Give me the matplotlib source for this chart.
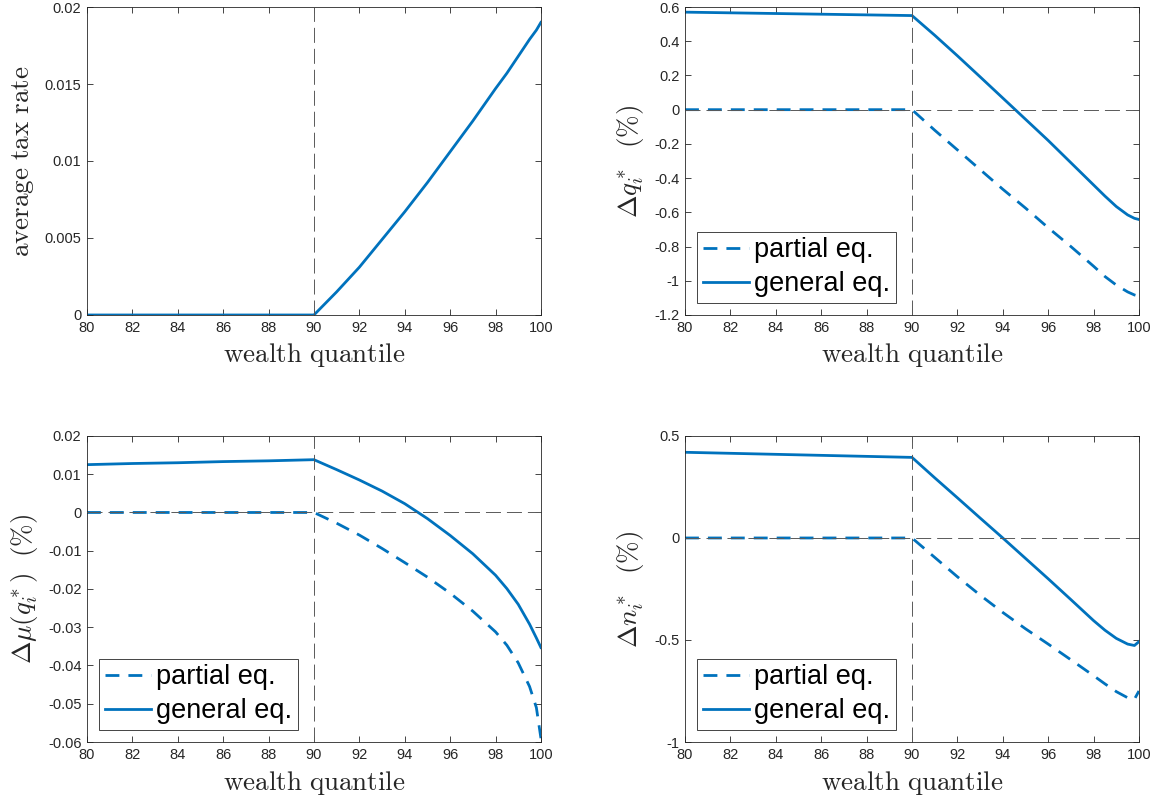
import matplotlib
matplotlib.use("Agg")
import matplotlib.pyplot as plt
from matplotlib.ticker import FuncFormatter

# DATA
quantile = [80, 82, 84, 86, 88, 90, 91, 92, 93, 94, 95, 96, 97, 98, 98.5, 99, 99.5, 99.8, 100]

tax_rate = [0, 0, 0, 0, 0, 0, 0.0015, 0.0031, 0.0049, 0.0067, 0.0086, 0.0106, 0.0126,
            0.0147, 0.0157, 0.0168, 0.0179, 0.0185, 0.0190]

dq_partial = [0, 0, 0, 0, 0, 0, -0.12, -0.235, -0.35, -0.465, -0.575, -0.69, -0.80,
              -0.915, -0.975, -1.025, -1.065, -1.083, -1.09]
dq_general = [0.57, 0.566, 0.562, 0.558, 0.554, 0.55, 0.435, 0.315, 0.192, 0.068, -0.056,
              -0.18, -0.31, -0.44, -0.505, -0.566, -0.615, -0.635, -0.642]

dmu_partial = [0, 0, 0, 0, 0, 0, -0.0028, -0.0059, -0.0094, -0.0131, -0.0169, -0.0211,
               -0.0258, -0.0312, -0.0347, -0.0393, -0.0455, -0.051, -0.059]
dmu_general = [0.0125, 0.0128, 0.0130, 0.0133, 0.0135, 0.0138, 0.0112, 0.0085, 0.0056,
               0.0023, -0.0016, -0.006, -0.0108, -0.0164, -0.0199, -0.0240, -0.0292,
               -0.0328, -0.0353]

dn_partial = [0, 0, 0, 0, 0, 0, -0.095, -0.19, -0.28, -0.365, -0.445, -0.52, -0.597,
              -0.675, -0.715, -0.753, -0.783, -0.79, -0.75]
dn_general = [0.42, 0.415, 0.41, 0.405, 0.40, 0.395, 0.295, 0.197, 0.098, 0.0, -0.1,
              -0.2, -0.302, -0.405, -0.452, -0.492, -0.52, -0.527, -0.508]

threshold = 90
x_ticks = list(range(80, 101, 2))

# STYLE
plt.rcParams['font.family'] = ['Liberation Sans', 'DejaVu Sans']
plt.rcParams['mathtext.fontset'] = 'cm'
plt.rcParams['axes.unicode_minus'] = False
plt.rcParams['lines.scale_dashes'] = False

blue = '#0072BD'
dark = '#262626'

fig = plt.figure(figsize=(11.64, 8.06), dpi=100)

positions = [
    [0.0747, 0.6092, 0.3900, 0.3821],
    [0.5885, 0.6092, 0.3900, 0.3821],
    [0.0747, 0.0794, 0.3900, 0.3797],
    [0.5885, 0.0794, 0.3900, 0.3797],
]

panels = [
    (None, tax_rate, r'$\mathrm{average\ tax\ rate}$', (0, 0.02), [0, 0.005, 0.01, 0.015, 0.02]),
    (dq_partial, dq_general, r'$\Delta q_i^*\ \ (\%)$', (-1.2, 0.6),
     [-1.2, -1, -0.8, -0.6, -0.4, -0.2, 0, 0.2, 0.4, 0.6]),
    (dmu_partial, dmu_general, r'$\Delta \mu(q_i^*)\ \ (\%)$', (-0.06, 0.02),
     [-0.06, -0.05, -0.04, -0.03, -0.02, -0.01, 0, 0.01, 0.02]),
    (dn_partial, dn_general, r'$\Delta n_i^*\ \ (\%)$', (-1, 0.5), [-1, -0.5, 0, 0.5]),
]

fmt = FuncFormatter(lambda v, p: '%g' % round(v, 6))

for pos, (partial, general, ylab, ylim, yticks) in zip(positions, panels):
    ax = fig.add_axes(pos)
    handles = []
    if partial is not None:
        h1, = ax.plot(quantile, partial, color=blue, lw=2, dashes=(10, 6.5), label='partial eq.')
        handles.append(h1)
    h2, = ax.plot(quantile, general, color=blue, lw=2, label='general eq.')
    handles.append(h2)

    # reference lines
    ax.axvline(threshold, color='0.35', lw=0.7, dashes=(10.8, 4.3), zorder=3)
    ax.axhline(0, color='0.35', lw=0.7, dashes=(10.8, 4.3), zorder=3)

    ax.set_xlim(80, 100)
    ax.set_ylim(*ylim)
    ax.set_xticks(x_ticks)
    ax.set_yticks(yticks)
    ax.yaxis.set_major_formatter(fmt)
    ax.tick_params(direction='in', length=4, width=0.6, colors=dark, labelsize=10.5,
                   top=True, right=True, pad=4)
    for s in ax.spines.values():
        s.set_color(dark)
        s.set_linewidth(0.6)

    ax.set_xlabel(r'$\mathrm{wealth\ quantile}$', fontsize=19.5, color=dark, labelpad=5)
    ax.set_ylabel(ylab, fontsize=19.5, color=dark, labelpad=6)

    if partial is not None:
        leg = ax.legend(handles=handles, loc='lower left', fontsize=19.5, fancybox=False,
                        framealpha=1, edgecolor=dark, handlelength=1.7, handletextpad=0.2,
                        borderpad=0.2, labelspacing=0.3, borderaxespad=0.45)
        leg.get_frame().set_linewidth(0.6)

fig.savefig('out.png', dpi=100)
